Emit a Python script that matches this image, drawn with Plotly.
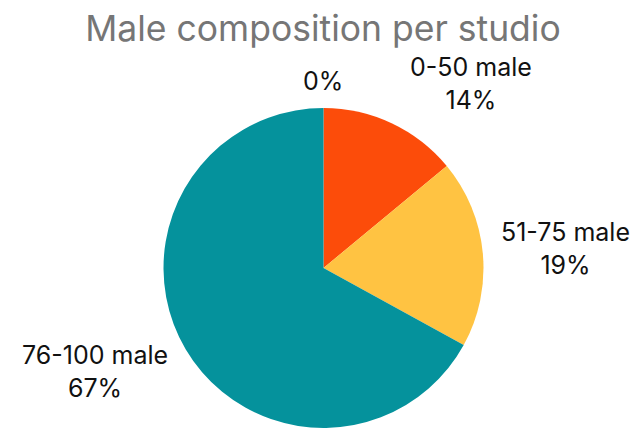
import math
import plotly.graph_objects as go

# ---- data ----
labels = ["0-50 male", "51-75 male", "76-100 male", ""]
values = [14, 19, 67, 0]
colors = ["#FC4C0A", "#FFC342", "#05929C", "#999999"]

# ---- layout constants ----
W, H = 640, 428
ML, MR, MT, MB = 0, 9, 100, 8
LABEL_SIZE = 25
LINE_H = 1.3 * LABEL_SIZE
GAP_X, GAP_Y = 16, 11

fig = go.Figure(go.Pie(
    labels=[l if l else "other" for l in labels],
    values=values,
    sort=False,
    direction="clockwise",
    rotation=0,
    marker=dict(colors=colors, line=dict(width=0)),
    textinfo="none",
    showlegend=False,
    hoverinfo="label+percent",
))

# outside labels, placed from the slice angles (same geometry Plotly uses for the pie)
pw, ph = W - ML - MR, H - MT - MB
cx, cy = ML + pw / 2, MT + ph / 2
R = min(pw, ph) / 2
total = sum(values)
cum = 0.0
annotations = []
for lab, v in zip(labels, values):
    pct = round(100 * v / total)
    mid = (cum + v / 2) / total * 2 * math.pi
    cum += v
    ux, uy = math.sin(mid), -math.cos(mid)
    ex, ey = cx + R * ux, cy + R * uy
    txt = f"{lab}<br>{pct}%" if lab else f"{pct}%"
    nlines = txt.count("<br>") + 1
    if ux > 0.05:
        xa, px = "left", ex + GAP_X
    elif ux < -0.05:
        xa, px = "right", ex - GAP_X
    else:
        xa, px = "center", ex
    py = ey + uy * (nlines * LINE_H / 2 + GAP_Y)
    annotations.append(dict(
        x=(px - ML) / pw, y=(H - MB - py) / ph,
        xref="paper", yref="paper",
        xanchor=xa, yanchor="middle",
        text=txt, showarrow=False, align="center",
        font=dict(family="Inter", size=LABEL_SIZE, color="#111111"),
    ))

fig.update_layout(
    width=W,
    height=H,
    margin=dict(l=ML, r=MR, t=MT, b=MB),
    paper_bgcolor="white",
    annotations=annotations,
    title=dict(
        text="Male composition per studio",
        x=315 / W, xanchor="center",
        y=1 - 21 / H, yanchor="middle", yref="container",
        font=dict(family="Inter", size=35.5, color="#767676"),
    ),
)

fig.write_html("out.html")
